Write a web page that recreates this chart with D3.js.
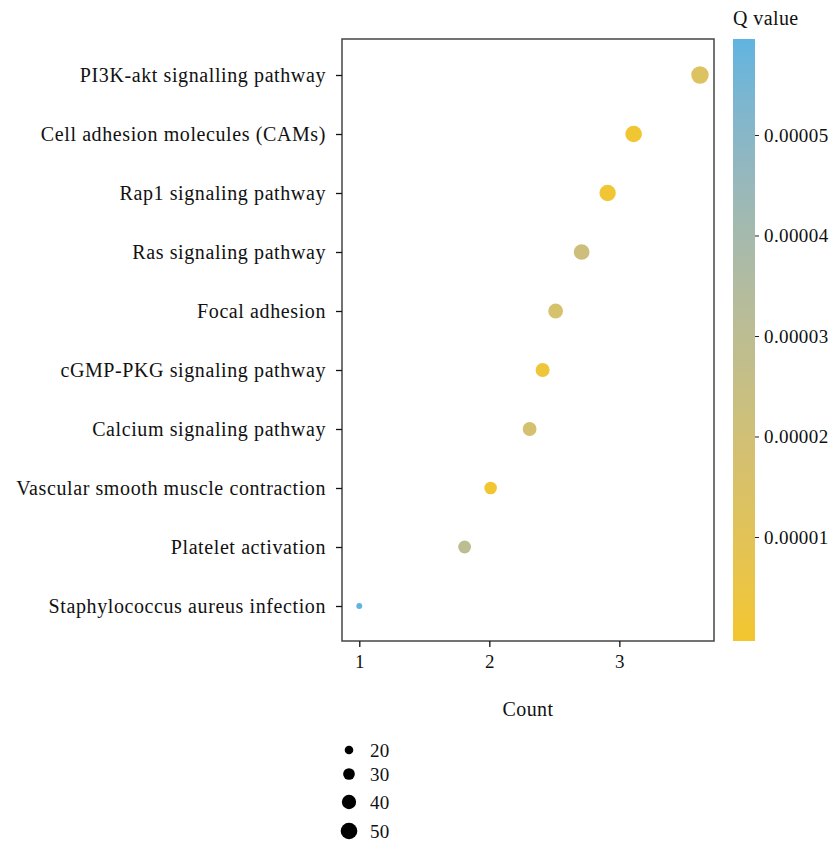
<!DOCTYPE html>
<html>
<head>
<meta charset="utf-8">
<script src="https://cdn.jsdelivr.net/npm/d3@7"></script>
<style>
  body { margin: 0; background: #fff; }
  text { font-family: "Liberation Serif", "Times New Roman", serif; fill: #111; }
</style>
</head>
<body>
<div id="chart"></div>
<script>
// pathways, top to bottom
const pathways = [
    "PI3K-akt signalling pathway",
    "Cell adhesion molecules (CAMs)",
    "Rap1 signaling pathway",
    "Ras signaling pathway",
    "Focal adhesion",
    "cGMP-PKG signaling pathway",
    "Calcium signaling pathway",
    "Vascular smooth muscle contraction",
    "Platelet activation",
    "Staphylococcus aureus infection"
];
const xValues = [3.62, 3.11, 2.91, 2.71, 2.51, 2.41, 2.31, 2.01, 1.81, 1.0];
const counts  = [54, 50, 49, 46, 42, 39, 38, 33, 34, 13];
const qValues = [1.35e-5, 1.2e-6, 1.5e-6, 2.2e-5, 1.7e-5, 2.5e-6, 1.8e-5, 5e-7, 3.0e-5, 5.95e-5];

const xTicks = [1, 2, 3];
const qTicks = [0.00001, 0.00002, 0.00003, 0.00004, 0.00005];
const sizeLegend = [20, 30, 40, 50];

const data = pathways.map((p, i) => ({name: p, x: xValues[i], count: counts[i], q: qValues[i]}));

const W = 834, H = 841;
const panel = {left: 342, right: 714, top: 39, bottom: 641};

const svg = d3.select("#chart").append("svg")
    .attr("width", W)
    .attr("height", H);

// scales
const x = d3.scaleLinear()
    .domain([0.867, 3.728])
    .range([panel.left, panel.right]);

const y = d3.scalePoint()
    .domain(pathways)
    .range([75, 606]);

const r = d3.scaleSqrt()
    .domain([20, 50])
    .range([4.3, 8.3]);

const qMin = 0, qMax = 5.955e-5;
const color = d3.scaleLinear()
    .domain([qMin, qMax])
    .range(["#f3c62d", "#60b4e0"])
    .interpolate(d3.interpolateLab);

// panel border
svg.append("rect")
    .attr("x", panel.left)
    .attr("y", panel.top)
    .attr("width", panel.right - panel.left)
    .attr("height", panel.bottom - panel.top)
    .attr("fill", "none")
    .attr("stroke", "#444")
    .attr("stroke-width", 1.5);

// y axis
const yAxis = svg.append("g")
    .attr("transform", `translate(${panel.left},0)`)
    .call(d3.axisLeft(y).tickSize(6).tickPadding(10));
yAxis.select(".domain").remove();
yAxis.selectAll("line").attr("stroke", "#111").attr("stroke-width", 1.3);
yAxis.selectAll("text")
    .style("font-family", "Liberation Serif, serif")
    .style("font-size", "20px")
    .style("letter-spacing", "0.6px")
    .attr("fill", "#111");

// x axis
const xAxis = svg.append("g")
    .attr("transform", `translate(0,${panel.bottom})`)
    .call(d3.axisBottom(x).tickValues(xTicks).tickFormat(d3.format("d")).tickSize(6).tickPadding(8));
xAxis.select(".domain").remove();
xAxis.selectAll("line").attr("stroke", "#111").attr("stroke-width", 1.3);
xAxis.selectAll("text")
    .style("font-family", "Liberation Serif, serif")
    .style("font-size", "19px")
    .attr("fill", "#111");

svg.append("text")
    .attr("x", (panel.left + panel.right) / 2)
    .attr("y", 716)
    .attr("text-anchor", "middle")
    .style("font-size", "20px")
    .style("letter-spacing", "0.4px")
    .text("Count");

// points
svg.selectAll("circle.pt")
    .data(data)
    .enter().append("circle")
    .attr("class", "pt")
    .attr("cx", d => x(d.x))
    .attr("cy", d => y(d.name))
    .attr("r", d => r(d.count))
    .attr("fill", d => color(d.q));

// colour bar
const bar = {x: 733, w: 22, top: 39, bottom: 641};
const qScale = d3.scaleLinear()
    .domain([qMin, qMax])
    .range([637.5, bar.top]);

const defs = svg.append("defs");
const grad = defs.append("linearGradient")
    .attr("id", "qgrad")
    .attr("x1", "0%").attr("y1", "100%")
    .attr("x2", "0%").attr("y2", "0%");
d3.range(0, 1.0001, 0.05).forEach(t => {
    grad.append("stop")
        .attr("offset", (t * 100) + "%")
        .attr("stop-color", color(qMin + t * (qMax - qMin)));
});

svg.append("rect")
    .attr("x", bar.x)
    .attr("y", bar.top)
    .attr("width", bar.w)
    .attr("height", bar.bottom - bar.top)
    .attr("fill", "url(#qgrad)");

const qAxis = svg.append("g")
    .attr("transform", `translate(${bar.x + bar.w},0)`)
    .call(d3.axisRight(qScale).tickValues(qTicks).tickFormat(d3.format(".5f")).tickSize(4).tickPadding(5));
qAxis.select(".domain").remove();
qAxis.selectAll("line").attr("stroke", "#222");
qAxis.selectAll("text")
    .style("font-family", "Liberation Serif, serif")
    .style("font-size", "19px")
    .style("letter-spacing", "0.4px")
    .attr("fill", "#111");

svg.append("text")
    .attr("x", 733)
    .attr("y", 25)
    .style("font-size", "20px")
    .style("letter-spacing", "0.4px")
    .text("Q value");

// size legend
const legendY = [750, 774, 802, 831];
const sizeLeg = svg.append("g").attr("class", "legend");
sizeLegend.forEach((v, i) => {
    sizeLeg.append("circle")
        .attr("cx", 349)
        .attr("cy", legendY[i])
        .attr("r", r(v))
        .attr("fill", "#000");
    sizeLeg.append("text")
        .attr("x", 370)
        .attr("y", legendY[i])
        .attr("dy", "0.35em")
        .style("font-size", "19px")
        .style("letter-spacing", "0.3px")
        .text(v);
});
</script>
</body>
</html>
